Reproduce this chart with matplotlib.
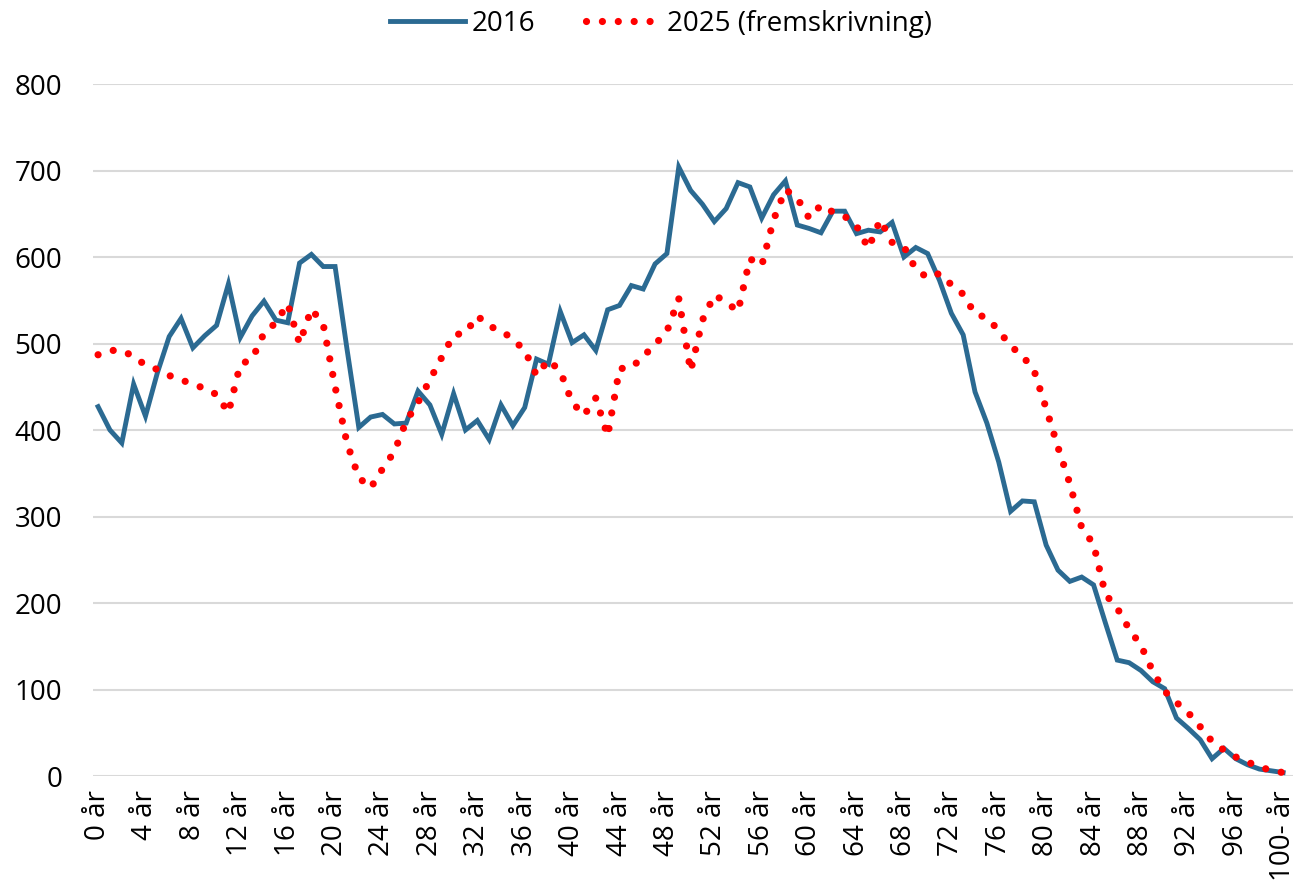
import matplotlib.pyplot as plt

ages = list(range(101))
tick_pos = list(range(0, 101, 4))
tick_labels = [f"{a} år" for a in range(0, 100, 4)] + ["100- år"]

pop_2016 = [427, 400, 385, 453, 416, 466, 508, 529, 495, 509,
            521, 569, 507, 532, 549, 527, 524, 593, 603, 589,
            589, 494, 403, 415, 418, 407, 408, 445, 429, 395,
            442, 400, 411, 389, 429, 405, 426, 482, 476, 537,
            501, 510, 492, 539, 544, 567, 563, 592, 604, 704,
            677, 661, 641, 656, 686, 681, 645, 672, 688, 637,
            633, 628, 653, 653, 627, 631, 629, 640, 600, 611,
            604, 573, 535, 510, 444, 408, 363, 306, 318, 317,
            267, 238, 225, 230, 221, 177, 134, 131, 122, 109,
            101, 67, 55, 42, 20, 32, 20, 13, 8, 6,
            4]

pop_2025 = [487, 492, 492, 485, 475, 470, 463, 458, 453, 448,
            441, 420, 476, 482, 512, 524, 546, 500, 540, 522,
            450, 385, 345, 333, 355, 375, 410, 432, 458, 484,
            510, 512, 532, 520, 515, 505, 492, 463, 481, 468,
            432, 417, 437, 393, 471, 472, 485, 499, 514, 552,
            468, 527, 556, 548, 537, 598, 590, 643, 678, 668,
            645, 660, 652, 647, 636, 610, 643, 617, 612, 586,
            576, 581, 568, 557, 534, 530, 515, 497, 486, 468,
            425, 380, 338, 287, 268, 210, 194, 170, 151, 121,
            98, 85, 73, 57, 40, 30, 22, 16, 11, 6,
            4]

plt.rcParams['font.family'] = ['Open Sans', 'DejaVu Sans']
plt.rcParams['font.size'] = 20

fig = plt.figure(figsize=(12.99, 8.89), dpi=100)
ax = fig.add_axes([0.0714, 0.1271, 0.9237, 0.7784])

ax.plot(ages, pop_2016, color='#2B6A92', linewidth=3.5, label='2016',
        solid_joinstyle='miter')
ax.plot(ages, pop_2025, color='#FF0000', linewidth=5.2,
        linestyle=(0, (0.001, 2.2)), dash_capstyle='round',
        label='2025 (fremskrivning)')

ax.set_ylim(0, 800)
ax.set_xlim(-0.45, 100.8)
ax.set_yticks(range(0, 801, 100))
ax.set_xticks(tick_pos)
ax.set_xticklabels(tick_labels, rotation=90)
ax.tick_params(axis='both', length=0)
ax.tick_params(axis='y', pad=22)
ax.tick_params(axis='x', pad=10)
ax.grid(axis='y', color='#D9D9D9', linewidth=1.5)
ax.set_axisbelow(True)
for s in ax.spines.values():
    s.set_visible(False)

fig.legend(loc='upper center', bbox_to_anchor=(0.509, 1.017), ncol=2,
           frameon=False, handlelength=2.7, handletextpad=0.25,
           columnspacing=1.8)

fig.savefig('out.png', dpi=100)
